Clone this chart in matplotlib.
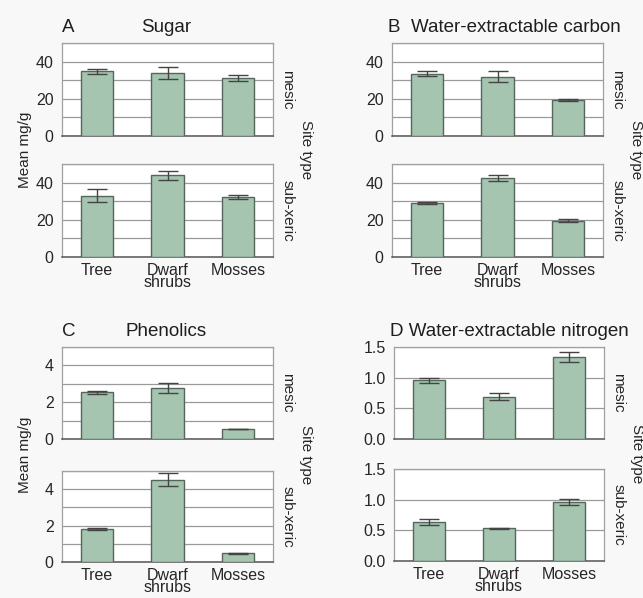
import numpy as np
import matplotlib.pyplot as plt
from matplotlib.ticker import MultipleLocator

plt.rcParams['font.family'] = ['Liberation Sans', 'DejaVu Sans']

groups = ['Tree', 'Dwarf\nshrubs', 'Mosses']
sites = ['mesic', 'sub-xeric']

sugar_mean = [[34.8, 34.0, 31.2], [33.0, 44.0, 32.4]]
sugar_err = [[1.2, 3.1, 1.8], [3.6, 2.5, 1.2]]
carbon_mean = [[33.5, 31.8, 19.4], [29.0, 42.5, 19.6]]
carbon_err = [[1.2, 3.0, 0.5], [0.5, 1.6, 0.6]]
phen_mean = [[2.53, 2.75, 0.54], [1.83, 4.52, 0.48]]
phen_err = [[0.06, 0.27, 0.02], [0.05, 0.36, 0.02]]
nitro_mean = [[0.96, 0.69, 1.34], [0.64, 0.53, 0.96]]
nitro_err = [[0.04, 0.055, 0.085], [0.05, 0.01, 0.045]]

W, H = 643, 598
bg = '#f8f8f8'
bar_col = '#a5c5b1'
edge_col = '#56665b'
txt = '#262626'

fig = plt.figure(figsize=(W / 100, H / 100), dpi=100, facecolor=bg)


def box(x0, y0, x1, y1):
    return [x0 / W, 1 - y1 / H, (x1 - x0) / W, (y1 - y0) / H]


panels = [
    # letter, title, means, errs, ymax, major, minor, fmt, x0, x1, rows, split title
    ('A', 'Sugar', sugar_mean, sugar_err, 50, 20, 10, '{:.0f}', 62, 273,
     [(43, 136), (164, 257)], True),
    ('B', ' Water-extractable carbon', carbon_mean, carbon_err, 50, 20, 10, '{:.0f}', 392, 603,
     [(43, 136), (164, 257)], False),
    ('C', 'Phenolics', phen_mean, phen_err, 5, 2, 1, '{:.0f}', 62, 273,
     [(347, 439), (471, 562)], True),
    ('D', 'Water-extractable nitrogen', nitro_mean, nitro_err, 1.5, 0.5, 0.5, '{:.1f}', 394, 604,
     [(347, 439), (469, 561)], False),
]

x = np.arange(len(groups))

for letter, title, means, errs, ymax, major, minor, fmt, x0, x1, rows, sep in panels:
    for k, (y0, y1) in enumerate(rows):
        ax = fig.add_axes(box(x0, y0, x1, y1))
        ax.set_facecolor('white')
        ax.bar(x, means[k], width=0.46, color=bar_col, edgecolor=edge_col,
               linewidth=1.0, zorder=3)
        ax.errorbar(x, means[k], yerr=errs[k], fmt='none', ecolor='#444444',
                    elinewidth=1.0, capsize=7, capthick=1.0, zorder=4)
        ax.set_xlim(-0.5, 2.5)
        ax.set_ylim(0, ymax)
        ax.yaxis.set_major_locator(MultipleLocator(major))
        ax.yaxis.set_minor_locator(MultipleLocator(minor))
        ax.yaxis.set_major_formatter(lambda v, p, f=fmt: f.format(v))
        ax.grid(True, which='both', axis='y', color='#9a9a9a', linewidth=0.9, zorder=0)
        ax.tick_params(axis='y', which='both', length=0, labelsize=11.5,
                       colors=txt, pad=6)
        ax.tick_params(axis='x', which='both', length=0, labelsize=11.5,
                       colors=txt, pad=4)
        for s in ['top', 'left', 'right']:
            ax.spines[s].set_color('#a0a0a0')
            ax.spines[s].set_linewidth(0.9)
        ax.spines['bottom'].set_color('#555555')
        ax.spines['bottom'].set_linewidth(1.1)
        if k == 1:
            ax.set_xticks(x)
            ax.set_xticklabels(groups, linespacing=0.8)
        else:
            ax.set_xticks([])
        ax.text(1.035, 0.5, sites[k], transform=ax.transAxes, rotation=-90,
                ha='left', va='center', fontsize=11, color=txt)
    ytop = rows[0][0]
    ymid = (rows[0][1] + rows[1][0]) / 2
    if sep:
        fig.text(x0 / W, 1 - (ytop - 16) / H, letter, ha='left', va='center',
                 fontsize=13.5, color='#1e1e1e')
        fig.text(((x0 + x1) / 2 - 1) / W, 1 - (ytop - 16) / H, title, ha='center',
                 va='center', fontsize=13.5, color='#1e1e1e')
        fig.text(25 / W, 1 - ymid / H, 'Mean mg/g', rotation=90, ha='center',
                 va='center', fontsize=11, color=txt)
    else:
        fig.text((x0 - 4) / W, 1 - (ytop - 16) / H, letter + ' ' + title, ha='left',
                 va='center', fontsize=13.5, color='#1e1e1e')
    fig.text((x1 + 33) / W, 1 - ymid / H, 'Site type', rotation=-90, ha='center',
             va='center', fontsize=11, color=txt)

fig.savefig('out.png', dpi=100, facecolor=bg)
